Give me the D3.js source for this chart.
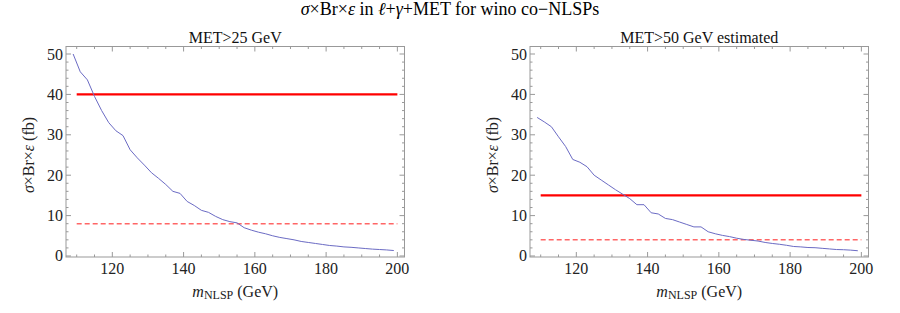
<!DOCTYPE html>
<html>
<head>
<meta charset="utf-8">
<script src="https://cdn.jsdelivr.net/npm/d3@7"></script>
<style>
  body { margin: 0; background: #fff; }
  svg { display: block; font-family: "Liberation Serif", "DejaVu Serif", serif; }
</style>
</head>
<body>
<svg id="chart" width="900" height="313"></svg>
<script>
// masses (GeV)
const mass = [109, 111, 113, 115, 117, 119, 121, 123, 125, 127, 129, 131, 133, 135, 137, 139,
  141, 143, 145, 147, 149, 151, 153, 155, 157, 159, 161, 163, 165, 167, 169, 171,
  173, 175, 177, 179, 181, 183, 185, 187, 189, 191, 193, 195, 197, 199]
// sigma x Br x eff, MET>25
const met25 = [50.0, 45.6, 43.6, 39.5, 36.0, 33.0, 31.0, 29.8, 26.3, 24.3, 22.5, 20.6, 19.2, 17.7, 16.0, 15.5,
  13.5, 12.5, 11.3, 10.8, 9.8, 9.0, 8.5, 8.2, 7.0, 6.4, 5.9, 5.5, 5.0, 4.6, 4.3, 4.0,
  3.6, 3.35, 3.1, 2.85, 2.6, 2.45, 2.25, 2.15, 2.0, 1.85, 1.7, 1.6, 1.5, 1.35]
// MET>50 estimated
const met50 = [34.3, 33.2, 32.0, 29.5, 27.1, 23.9, 23.2, 22.1, 20.0, 18.8, 17.6, 16.4, 15.3, 14.2, 12.7, 12.7,
  10.7, 10.4, 9.3, 9.0, 8.4, 7.8, 7.2, 7.2, 6.0, 5.5, 5.1, 4.8, 4.4, 4.1, 3.9, 3.7,
  3.35, 3.1, 2.9, 2.65, 2.35, 2.25, 2.1, 2.05, 1.9, 1.75, 1.6, 1.55, 1.45, 1.3]
const limitRange = [110, 200]
const limits25 = { solid: 40, dashed: 8 }
const limits50 = { solid: 15, dashed: 4 }
const xTicks = [120, 140, 160, 180, 200]
const yTicks = [0, 10, 20, 30, 40, 50]

const svg = d3.select('#chart')

svg.append('text')
  .attr('x', 450).attr('y', 15)
  .attr('text-anchor', 'middle')
  .attr('font-size', 18)
  .html('<tspan font-style="italic">σ</tspan>×Br×<tspan font-style="italic">ε</tspan> in <tspan font-style="italic">ℓ</tspan>+<tspan font-style="italic">γ</tspan>+MET for wino co−NLSPs')

function panel(left, right, title, values, limits) {
  const x = d3.scaleLinear().domain([107, 202]).range([left, right])
  const y = d3.scaleLinear().domain([-0.25, 51.86]).range([257, 46.5])
  const g = svg.append('g')
  const frameColor = '#999'

  // red limit lines
  g.append('line')
    .attr('x1', x(limitRange[0])).attr('x2', x(limitRange[1]))
    .attr('y1', y(limits.solid)).attr('y2', y(limits.solid))
    .attr('stroke', '#f00').attr('stroke-width', 2.4)
  g.append('line')
    .attr('x1', x(limitRange[0])).attr('x2', x(limitRange[1]))
    .attr('y1', y(limits.dashed)).attr('y2', y(limits.dashed))
    .attr('stroke', '#ff6666').attr('stroke-width', 1.5)
    .attr('stroke-dasharray', '5,3')

  const line = d3.line().x((d, i) => x(mass[i])).y(d => y(d))
  g.append('path')
    .attr('d', line(values))
    .attr('fill', 'none')
    .attr('stroke', '#6b6bc4')
    .attr('stroke-width', 1)

  // frame
  g.append('rect')
    .attr('x', left).attr('y', 46.5)
    .attr('width', right - left).attr('height', 257 - 46.5)
    .attr('fill', 'none').attr('stroke', frameColor).attr('stroke-width', 1)

  // ticks, inward on all four sides
  const xt = d3.range(110, 201, 5)
  xt.forEach(v => {
    const len = v % 20 === 0 ? 5 : 2.5
    g.append('line').attr('x1', x(v)).attr('x2', x(v)).attr('y1', 257).attr('y2', 257 - len)
      .attr('stroke', frameColor)
    g.append('line').attr('x1', x(v)).attr('x2', x(v)).attr('y1', 46.5).attr('y2', 46.5 + len)
      .attr('stroke', frameColor)
  })
  const yt = d3.range(0, 51, 2)
  yt.forEach(v => {
    const len = v % 10 === 0 ? 5 : 2.5
    g.append('line').attr('x1', left).attr('x2', left + len).attr('y1', y(v)).attr('y2', y(v))
      .attr('stroke', frameColor)
    g.append('line').attr('x1', right).attr('x2', right - len).attr('y1', y(v)).attr('y2', y(v))
      .attr('stroke', frameColor)
  })

  g.selectAll('.xl').data(xTicks).enter().append('text')
    .attr('x', d => x(d)).attr('y', 274)
    .attr('text-anchor', 'middle').attr('font-size', 16).attr('fill', '#222')
    .text(d => d)
  g.selectAll('.yl').data(yTicks).enter().append('text')
    .attr('x', left - 3).attr('y', d => y(d) + 5.5)
    .attr('text-anchor', 'end').attr('font-size', 16).attr('fill', '#222')
    .text(d => d)

  g.append('text')
    .attr('x', (left + right) / 2).attr('y', 43)
    .attr('text-anchor', 'middle').attr('font-size', 16).attr('fill', '#111')
    .text(title)

  g.append('text')
    .attr('x', (left + right) / 2).attr('y', 297)
    .attr('text-anchor', 'middle').attr('font-size', 16).attr('fill', '#222')
    .html('<tspan font-style="italic">m</tspan><tspan font-size="12" dy="2">NLSP</tspan><tspan dy="-2"> (GeV)</tspan>')

  g.append('text')
    .attr('transform', `translate(${left - 32},${y(25)}) rotate(-90)`)
    .attr('text-anchor', 'middle').attr('font-size', 16).attr('fill', '#222')
    .html('<tspan font-style="italic">σ</tspan>×Br×<tspan font-style="italic">ε</tspan> (fb)')
}

panel(66, 404.5, 'MET>25 GeV', met25, limits25)
panel(530, 868.5, 'MET>50 GeV estimated', met50, limits50)
</script>
</body>
</html>
